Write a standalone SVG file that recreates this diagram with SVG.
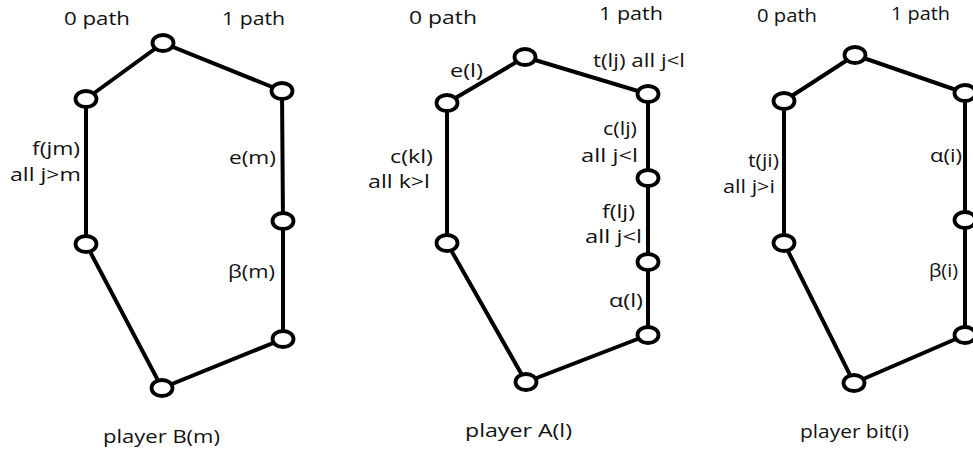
<svg xmlns="http://www.w3.org/2000/svg" width="973" height="453" viewBox="0 0 973 453">
<style>
.e{stroke:#000;stroke-width:4;fill:none;stroke-linecap:round}
.n{fill:#fff;stroke:#000;stroke-width:3.8}
text{font-family:"Open Sans","DejaVu Sans",sans-serif;font-size:18.5px;fill:#111}
.s{font-size:17.5px}
</style>
<rect width="973" height="453" fill="#fff"/>
<g id="connectors">
<polyline class="e" points="86,99 163,43 282,91 283,221 283,339 162,388 86,244 86,99"/>
<polyline class="e" points="447,103 525,57 648,94 648,178 648,262 648,335 526,382 447,243 447,103"/>
<polyline class="e" points="784,101 855,55 965,93 965,220 965,335 854,383 784,243 784,101"/>
</g>
<g id="playerB">
<ellipse id="b1" class="n" cx="163" cy="43" rx="10.5" ry="8"/>
<ellipse id="b2" class="n" cx="86" cy="99" rx="10.5" ry="8"/>
<ellipse id="b3" class="n" cx="282" cy="91" rx="10.5" ry="8"/>
<ellipse id="b4" class="n" cx="86" cy="244" rx="10.5" ry="8"/>
<ellipse id="b5" class="n" cx="283" cy="221" rx="10.5" ry="8"/>
<ellipse id="b6" class="n" cx="283" cy="339" rx="10.5" ry="8"/>
<ellipse id="b7" class="n" cx="162" cy="388" rx="10.5" ry="8"/>
<text x="64" y="25" textLength="66" lengthAdjust="spacingAndGlyphs">0 path</text>
<text x="222" y="25" textLength="63" lengthAdjust="spacingAndGlyphs">1 path</text>
<text x="32" y="155" textLength="48" lengthAdjust="spacingAndGlyphs">f(jm)</text>
<text x="10" y="181" textLength="71" lengthAdjust="spacingAndGlyphs">all j&gt;m</text>
<text x="229" y="164" textLength="47" lengthAdjust="spacingAndGlyphs">e(m)</text>
<text x="228" y="278" textLength="47" lengthAdjust="spacingAndGlyphs">β(m)</text>
<text x="103" y="443" textLength="117" lengthAdjust="spacingAndGlyphs">player B(m)</text>
</g>
<g id="playerA">
<ellipse id="a1" class="n" cx="525" cy="57" rx="10.5" ry="8"/>
<ellipse id="a2" class="n" cx="447" cy="103" rx="10.5" ry="8"/>
<ellipse id="a3" class="n" cx="648" cy="94" rx="10.5" ry="8"/>
<ellipse id="a4" class="n" cx="648" cy="178" rx="10.5" ry="8"/>
<ellipse id="a5" class="n" cx="648" cy="262" rx="10.5" ry="8"/>
<ellipse id="a6" class="n" cx="648" cy="335" rx="10.5" ry="8"/>
<ellipse id="a7" class="n" cx="526" cy="382" rx="10.5" ry="8"/>
<ellipse id="a8" class="n" cx="447" cy="243" rx="10.5" ry="8"/>
<text x="409" y="24" textLength="68" lengthAdjust="spacingAndGlyphs">0 path</text>
<text x="599" y="20" textLength="64" lengthAdjust="spacingAndGlyphs">1 path</text>
<text x="450" y="77" textLength="33" lengthAdjust="spacingAndGlyphs">e(l)</text>
<text x="593" y="67" textLength="92" lengthAdjust="spacingAndGlyphs">t(lj) all j&lt;l</text>
<text x="390" y="163" textLength="43" lengthAdjust="spacingAndGlyphs">c(kl)</text>
<text x="368" y="188" textLength="62" lengthAdjust="spacingAndGlyphs">all k&gt;l</text>
<text x="603" y="135" textLength="34" lengthAdjust="spacingAndGlyphs">c(lj)</text>
<text x="581" y="162" textLength="57" lengthAdjust="spacingAndGlyphs">all j&lt;l</text>
<text x="602" y="218" textLength="33" lengthAdjust="spacingAndGlyphs">f(lj)</text>
<text x="585" y="243" textLength="57" lengthAdjust="spacingAndGlyphs">all j&lt;l</text>
<text x="609" y="307" textLength="34" lengthAdjust="spacingAndGlyphs">α(l)</text>
<text x="465" y="437" textLength="107" lengthAdjust="spacingAndGlyphs">player A(l)</text>
</g>
<g id="playerBit">
<ellipse id="c1" class="n" cx="855" cy="55" rx="10.5" ry="8"/>
<ellipse id="c2" class="n" cx="784" cy="101" rx="10.5" ry="8"/>
<ellipse id="c3" class="n" cx="965" cy="93" rx="10.5" ry="8"/>
<ellipse id="c4" class="n" cx="965" cy="220" rx="10.5" ry="8"/>
<ellipse id="c5" class="n" cx="965" cy="335" rx="10.5" ry="8"/>
<ellipse id="c6" class="n" cx="854" cy="383" rx="10.5" ry="8"/>
<ellipse id="c7" class="n" cx="784" cy="243" rx="10.5" ry="8"/>
<text class="s" x="757" y="22" textLength="60" lengthAdjust="spacingAndGlyphs">0 path</text>
<text class="s" x="891" y="20" textLength="59" lengthAdjust="spacingAndGlyphs">1 path</text>
<text class="s" x="748" y="167" textLength="31" lengthAdjust="spacingAndGlyphs">t(ji)</text>
<text class="s" x="723" y="193" textLength="52" lengthAdjust="spacingAndGlyphs">all j&gt;i</text>
<text class="s" x="930" y="162" textLength="32" lengthAdjust="spacingAndGlyphs">α(i)</text>
<text class="s" x="929" y="277" textLength="29" lengthAdjust="spacingAndGlyphs">β(i)</text>
<text class="s" x="800" y="438" textLength="109" lengthAdjust="spacingAndGlyphs">player bit(i)</text>
</g>
</svg>
